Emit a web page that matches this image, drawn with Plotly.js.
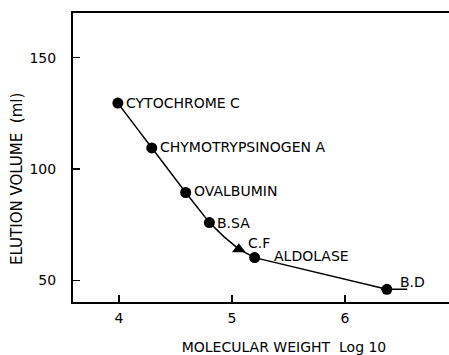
<!DOCTYPE html>
<html>
<head>
<meta charset="utf-8">
<script src="https://cdn.plot.ly/plotly-3.0.1.min.js"></script>
<style>
  html, body { margin: 0; padding: 0; background: #fff; overflow: hidden; }
  #chart { width: 500px; height: 355px; }
</style>
</head>
<body>
<div id="chart"></div>
<script>
// Calibration proteins: log10 molecular weight vs elution volume
const proteins   = ["CYTOCHROME C", "CHYMOTRYPSINOGEN A", "OVALBUMIN", "B.SA", "ALDOLASE", "B.D"];
const logMW      = [3.99, 4.29, 4.59, 4.80, 5.20, 6.37];
const elutionVol = [129.6, 109.5, 89.5, 76.0, 60.3, 46.1];

// Sample (triangle)
const sampleName = ["C.F"];
const sampleMW   = [5.06];
const sampleVol  = [64.1];

// Calibration curve drawn through the standards (with short tail past B.D)
const curveX = [3.99, 4.29, 4.59, 4.80, 4.93, 5.06, 5.20, 6.37, 6.55];
const curveY = [129.6, 109.5, 89.5, 76.0, 69.6, 64.1, 60.3, 46.1, 46.1];

const xTicks = [4, 5, 6];
const yTicks = [50, 100, 150];

const FONT = "DejaVu Sans, Liberation Sans, sans-serif";

// label offsets in pixels: [xshift, yshift]
const labelShift = [[6, 0], [6, 1], [6, 2], [6, 0], [17, 2], [11, 7]];

const traces = [
  {
    x: curveX, y: curveY, mode: "lines", type: "scatter",
    line: { color: "#000", width: 1.5 }, hoverinfo: "skip"
  },
  {
    x: logMW, y: elutionVol, mode: "markers", type: "scatter",
    marker: { color: "#000", size: 11, symbol: "circle" }
  },
  {
    x: sampleMW, y: sampleVol, mode: "markers", type: "scatter",
    marker: { color: "#000", size: 12, symbol: "triangle-up" }
  }
];

const annotations = proteins.map((name, i) => ({
  x: logMW[i], y: elutionVol[i], xref: "x", yref: "y",
  text: name, showarrow: false, xanchor: "left", yanchor: "middle",
  xshift: labelShift[i][0], yshift: labelShift[i][1],
  font: { family: FONT, size: 14, color: "#000" }
}));
annotations.push({
  x: sampleMW[0], y: sampleVol[0], xref: "x", yref: "y",
  text: sampleName[0], showarrow: false, xanchor: "left", yanchor: "middle",
  xshift: 7, yshift: 6,
  font: { family: FONT, size: 14, color: "#000" }
});
annotations.push({
  x: 17, y: 179, xref: "paper", yref: "paper",
  text: "ELUTION VOLUME  (ml)", showarrow: false, textangle: -90,
  xanchor: "center", yanchor: "middle",
  font: { family: FONT, size: 15, color: "#000" }
});

const layout = {
  width: 500, height: 355,
  margin: { l: 73, r: 5, t: 13, b: 53 },
  paper_bgcolor: "#fff", plot_bgcolor: "#fff",
  showlegend: false,
  font: { family: FONT, color: "#000" },
  xaxis: {
    range: [3.593, 7.327],
    tickvals: xTicks, ticktext: xTicks.map(String),
    ticks: "inside", ticklen: 7, tickwidth: 1.5, tickcolor: "#000",
    showline: true, linecolor: "#000", linewidth: 2, mirror: true,
    showgrid: false, zeroline: false,
    tickfont: { family: FONT, size: 14, color: "#000" },
    ticklabelstandoff: 2,
    title: { text: "MOLECULAR WEIGHT  Log 10", standoff: 20,
             font: { family: FONT, size: 14, color: "#000" } }
  },
  yaxis: {
    range: [40.4, 170],
    tickvals: yTicks, ticktext: yTicks.map(String),
    ticks: "inside", ticklen: 7, tickwidth: 1.5, tickcolor: "#000",
    showline: true, linecolor: "#000", linewidth: 2, mirror: true,
    showgrid: false, zeroline: false,
    tickfont: { family: FONT, size: 14, color: "#000" },
    ticklabelstandoff: 12
  },
  annotations: annotations
};

// y-title annotation uses pixel placement converted to paper coords
const plotW = layout.width - layout.margin.l - layout.margin.r;
const plotH = layout.height - layout.margin.t - layout.margin.b;
const yTitle = annotations[annotations.length - 1];
yTitle.x = (yTitle.x - layout.margin.l) / plotW;
yTitle.y = 1 - (yTitle.y - layout.margin.t) / plotH;

Plotly.newPlot("chart", traces, layout, { staticPlot: true, displayModeBar: false });
</script>
</body>
</html>
